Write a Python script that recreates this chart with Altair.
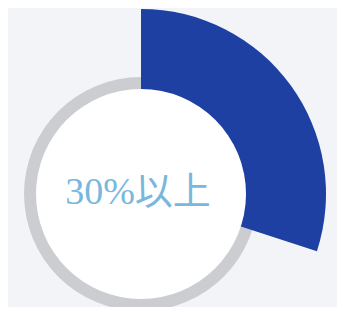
import math
import altair as alt
import pandas as pd

categories = ["30%以上", "その他"]
values = [30, 70]
order = [0, 1]
label = "30%以上"

W, H = 329, 299
CX, CY = 133, 186

df = pd.DataFrame({"category": categories, "value": values, "order": order})
one = pd.DataFrame({"label": [label]})

ring = alt.Chart(one).mark_arc(
    theta=0, theta2=2 * math.pi, radius=117, radius2=0, color="#cbcdd1"
).encode(x=alt.value(CX), y=alt.value(CY))

wedge = alt.Chart(df).mark_arc(radius=185, radius2=0).encode(
    theta=alt.Theta("value:Q", stack=True, scale=alt.Scale(domain=[0, 100])),
    order=alt.Order("order:Q"),
    color=alt.Color("category:N", scale=alt.Scale(domain=categories,
                    range=["#1f40a3", "rgba(0,0,0,0)"]), legend=None),
    x=alt.value(CX), y=alt.value(CY),
)

disc = alt.Chart(one).mark_arc(
    theta=0, theta2=2 * math.pi, radius=105, radius2=0, color="#ffffff"
).encode(x=alt.value(CX), y=alt.value(CY))

text = alt.Chart(one).mark_text(
    font="Liberation Serif, Noto Sans CJK JP", fontSize=38, color="#7ab7dc",
    baseline="middle", align="center"
).encode(x=alt.value(CX - 3), y=alt.value(CY - 1), text="label:N")

chart = alt.layer(ring, wedge, disc, text).properties(
    width=W, height=H, padding=0, autosize=alt.AutoSizeParams(type="none"),
    background="#f3f4f8"
).configure_view(stroke=None)

chart.save("out.html", embed_options={"renderer": "svg", "actions": False})
